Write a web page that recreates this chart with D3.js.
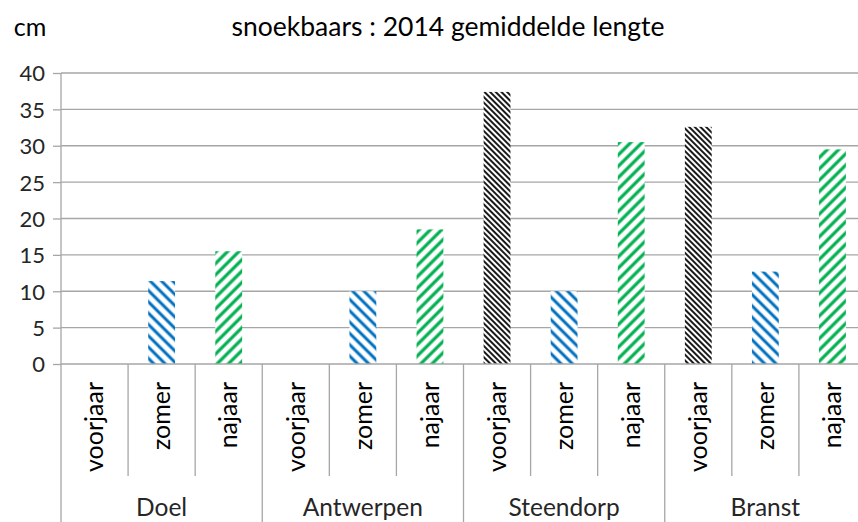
<!DOCTYPE html>
<html>
<head>
<meta charset="utf-8">
<script src="https://cdn.jsdelivr.net/npm/d3@7"></script>
<style>
  body { margin: 0; background: #fff; }
  svg { display: block; font-family: Lato, "Open Sans", sans-serif; }
</style>
</head>
<body>
<svg id="chart" width="858" height="522"></svg>
<script>
// data
const locations = ["Doel", "Antwerpen", "Steendorp", "Branst"];
const seasons = ["voorjaar", "zomer", "najaar"];
const voorjaar = [null, null, 37.4, 32.6];
const zomer = [11.4, 10.0, 10.0, 12.7];
const najaar = [15.5, 18.5, 30.5, 29.5];
const yTicks = [0, 5, 10, 15, 20, 25, 30, 35, 40];

const svg = d3.select("#chart");
const margin = {left: 61, top: 73, right: -8, bottom: 158};
const width = 858 - margin.left - margin.right;
const plotH = 364 - margin.top;

const rows = [];
locations.forEach((loc, i) => {
    rows.push({loc, season: "voorjaar", value: voorjaar[i]});
    rows.push({loc, season: "zomer", value: zomer[i]});
    rows.push({loc, season: "najaar", value: najaar[i]});
});

const x = d3.scaleBand()
    .domain(rows.map((d, i) => i))
    .range([0, width])
    .paddingInner(0.6)
    .paddingOuter(0.3);
const slot = width / rows.length;

const y = d3.scaleLinear().domain([0, 40]).range([plotH, 0]);

// hatch patterns
const defs = svg.append("defs");
function hatch(id, color, size, sw, dir) {
    const p = defs.append("pattern")
        .attr("id", id)
        .attr("patternUnits", "userSpaceOnUse")
        .attr("width", size).attr("height", size)
        .attr("patternTransform", "rotate(" + dir + ")");
    p.append("rect").attr("width", size).attr("height", size).attr("fill", "#fff");
    p.append("line")
        .attr("x1", size / 2).attr("x2", size / 2)
        .attr("y1", 0).attr("y2", size)
        .attr("stroke", color).attr("stroke-width", sw);
}
hatch("h-voorjaar", "#1a1a1a", 4, 2, -45);
hatch("h-zomer", "#0070c0", 8, 3, -45);
hatch("h-najaar", "#00b050", 8, 3.2, 45);

const g = svg.append("g").attr("transform", "translate(" + margin.left + "," + margin.top + ")");

// gridlines
g.append("g").selectAll("line")
    .data(yTicks.filter(t => t > 0))
    .enter().append("line")
    .attr("x1", 0).attr("x2", width)
    .attr("y1", d => y(d)).attr("y2", d => y(d))
    .attr("stroke", "#a6a6a6").attr("stroke-width", 1.3);

// y axis
const yAxis = g.append("g").call(d3.axisLeft(y).tickValues(yTicks).tickSize(8).tickPadding(8));
yAxis.select(".domain").attr("stroke", "#a6a6a6").attr("stroke-width", 1.3).attr("d", "M0," + plotH + "V0");
yAxis.selectAll(".tick line").attr("stroke", "#a6a6a6").attr("stroke-width", 1.3);
yAxis.selectAll(".tick text").attr("fill", "#262626").style("font-size", "22px")
    .attr("font-family", "Lato, 'Open Sans', sans-serif").attr("dy", "0.36em");

// bars
g.append("g").selectAll("rect")
    .data(rows)
    .enter().filter(d => d.value != null).append("rect")
    .attr("x", (d, i) => x(rows.indexOf(d)))
    .attr("width", x.bandwidth())
    .attr("y", d => y(d.value))
    .attr("height", d => y(0) - y(d.value))
    .attr("fill", d => "url(#h-" + d.season + ")");

// category axis
const cat = g.append("g").attr("transform", "translate(0," + plotH + ")");
cat.append("line").attr("x1", 0).attr("x2", width).attr("y1", 0).attr("y2", 0)
    .attr("stroke", "#a6a6a6").attr("stroke-width", 1.3);
cat.selectAll(".sep")
    .data(d3.range(rows.length + 1))
    .enter().append("line")
    .attr("class", "sep")
    .attr("x1", d => d * slot).attr("x2", d => d * slot)
    .attr("y1", 0).attr("y2", d => d % 3 === 0 ? 160 : 112)
    .attr("stroke", "#a6a6a6").attr("stroke-width", 1.3);

cat.selectAll(".season")
    .data(rows)
    .enter().append("text")
    .attr("class", "season")
    .attr("transform", (d, i) => "translate(" + (i * slot + slot / 2) + ",18) rotate(-90)")
    .attr("text-anchor", "end")
    .attr("dy", "0.35em")
    .attr("fill", "#000")
    .style("font-size", "25px")
    .text(d => d.season);

cat.selectAll(".loc")
    .data(locations)
    .enter().append("text")
    .attr("class", "loc")
    .attr("x", (d, i) => (i * 3 + 1.5) * slot)
    .attr("y", 152)
    .attr("text-anchor", "middle")
    .attr("fill", "#262626")
    .style("font-size", "24.5px")
    .text(d => d);

// titles
svg.append("text").attr("x", 448).attr("y", 36).attr("text-anchor", "middle")
    .attr("fill", "#000").style("font-size", "26.5px")
    .text("snoekbaars : 2014 gemiddelde lengte");
svg.append("text").attr("x", 30).attr("y", 36).attr("text-anchor", "middle")
    .attr("fill", "#000").style("font-size", "25px")
    .text("cm");
</script>
</body>
</html>
